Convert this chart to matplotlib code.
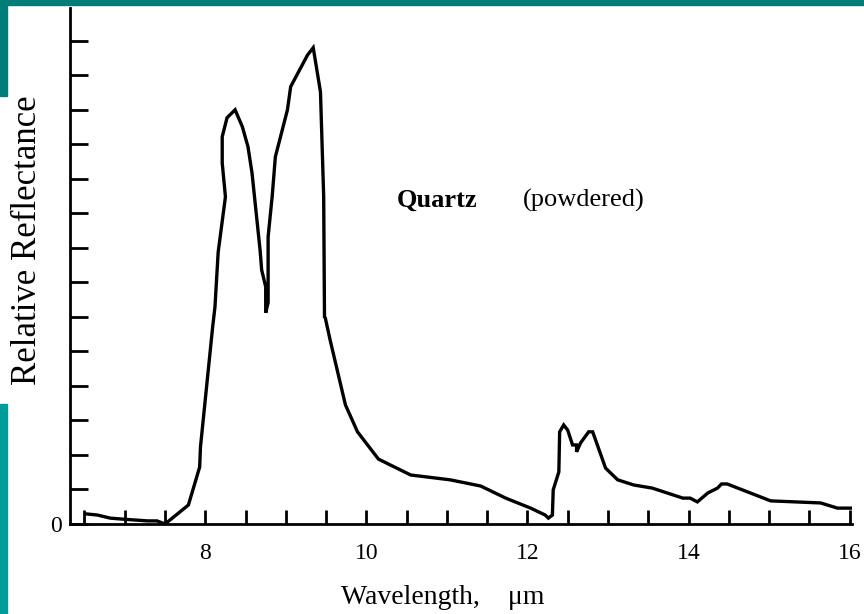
import matplotlib as mpl

mpl.use("Agg")

import matplotlib.pyplot as plt
from matplotlib.patches import Rectangle
from matplotlib.ticker import MultipleLocator

# quartz (powdered) reflectance curve
wavelength = [
    6.53, 6.66, 6.82, 6.98, 7.28, 7.40, 7.50, 7.79, 7.93, 7.94,
    8.09, 8.12, 8.16, 8.25, 8.21, 8.21, 8.27, 8.37, 8.46, 8.53,
    8.58, 8.68, 8.70, 8.75, 8.75, 8.78, 8.78, 8.83, 8.87, 9.02,
    9.06, 9.27, 9.34, 9.43, 9.47, 9.48, 9.49, 9.55, 9.74, 9.89,
    10.15, 10.55, 11.04, 11.42, 11.73, 12.04, 12.22, 12.26, 12.31, 12.32,
    12.39, 12.40, 12.45, 12.50, 12.56, 12.61, 12.61, 12.66, 12.76, 12.81,
    12.97, 13.12, 13.32, 13.55, 13.93, 14.02, 14.11, 14.24, 14.36, 14.41,
    14.48, 15.02, 15.64, 15.85, 16.03,
]
reflectance = [
    0.29, 0.26, 0.17, 0.14, 0.09, 0.09, 0.00, 0.55, 1.65, 2.23,
    5.68, 6.29, 7.88, 9.48, 10.46, 11.22, 11.77, 12.00, 11.51, 10.93,
    10.17, 7.94, 7.36, 6.87, 6.12, 6.41, 8.32, 9.48, 10.64, 12.00,
    12.67, 13.59, 13.80, 12.52, 9.48, 6.00, 5.97, 5.33, 3.45, 2.67,
    1.88, 1.42, 1.28, 1.10, 0.75, 0.46, 0.26, 0.17, 0.26, 0.99,
    1.51, 2.67, 2.87, 2.72, 2.29, 2.29, 2.09, 2.35, 2.67, 2.67,
    1.62, 1.28, 1.13, 1.04, 0.75, 0.75, 0.64, 0.90, 1.04, 1.16,
    1.16, 0.67, 0.61, 0.46, 0.46,
]

x_major = [8, 10, 12, 14, 16]

plt.rcParams["font.family"] = ["Liberation Serif", "DejaVu Serif"]

W, H = 864, 614
fig = plt.figure(figsize=(W / 100, H / 100), dpi=100)

# teal frame pieces of the slide
teal_dark = "#007d78"
teal_light = "#009c99"
fig.patches.append(Rectangle((0, 1 - 5 / H), 1, 5 / H, transform=fig.transFigure,
                             color=teal_dark, zorder=0))
fig.patches.append(Rectangle((0, 1 - 96 / H), 7 / W, 96 / H, transform=fig.transFigure,
                             color=teal_dark, zorder=0))
fig.patches.append(Rectangle((0, 0), 7 / W, 210 / H, transform=fig.transFigure,
                             color=teal_light, zorder=0))

ax = fig.add_axes([70 / W, 1 - 524 / H, 782 / W, 516 / H])
ax.plot(wavelength, reflectance, color="black", linewidth=2.4, solid_joinstyle="miter")

ax.set_xlim(6.32, 16.03)
ax.set_ylim(0, 14.95)
ax.spines["top"].set_visible(False)
ax.spines["right"].set_visible(False)
ax.spines["left"].set_linewidth(2)
ax.spines["bottom"].set_linewidth(2)

ax.set_xticks(x_major)
ax.set_xticklabels([str(v) for v in x_major])
ax.xaxis.set_minor_locator(MultipleLocator(0.5))
ax.set_yticks([0])
ax.set_yticklabels(["0"])
ax.yaxis.set_minor_locator(MultipleLocator(1))
ax.tick_params(axis="x", which="both", direction="in", length=10, width=2, labelsize=17, pad=14)
ax.tick_params(axis="y", which="both", direction="in", length=13, width=2, labelsize=17, pad=6)

fig.text(443 / W, 1 - 598 / H, "Wavelength,    \u03bcm", fontsize=20,
         ha="center", va="center")
fig.text(28 / W, 1 - 240 / H, "Relative Reflectance", fontsize=25, rotation=90,
         ha="center", va="center")

fig.text(397 / W, 1 - 200 / H, "Quartz", fontsize=19, fontweight="bold", va="center")
fig.text(523 / W, 1 - 200 / H, "(powdered)", fontsize=19, va="center")

fig.savefig("out.png", dpi=100)
